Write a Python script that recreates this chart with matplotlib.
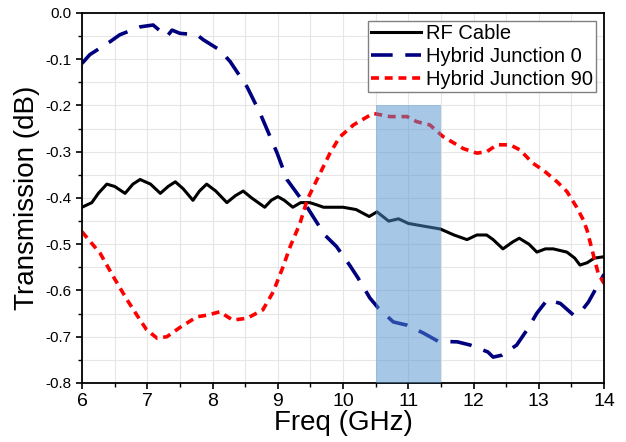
import matplotlib
matplotlib.use('Agg')
import matplotlib.pyplot as plt
from matplotlib.ticker import MultipleLocator

plt.rcParams['font.family'] = ['Liberation Sans', 'DejaVu Sans']

# RF cable
f_cable = [6.0, 6.15, 6.25, 6.38, 6.5, 6.66, 6.78, 6.89, 7.05, 7.2, 7.32, 7.43, 7.55, 7.7,
           7.8, 7.91, 8.05, 8.22, 8.35, 8.47, 8.6, 8.8, 8.9, 9.0, 9.1, 9.23, 9.35, 9.49,
           9.6, 9.7, 9.85, 10.0, 10.2, 10.4, 10.52, 10.7, 10.85, 11.0, 11.2, 11.49, 11.7,
           11.9, 12.05, 12.2, 12.3, 12.45, 12.6, 12.7, 12.85, 12.97, 13.1, 13.22, 13.43,
           13.55, 13.63, 13.74, 13.85, 14.0]
t_cable = [-0.42, -0.41, -0.39, -0.37, -0.375, -0.39, -0.37, -0.36, -0.37, -0.39, -0.375,
           -0.365, -0.38, -0.405, -0.385, -0.37, -0.385, -0.41, -0.395, -0.385, -0.40,
           -0.42, -0.405, -0.397, -0.405, -0.42, -0.41, -0.41, -0.415, -0.42, -0.42,
           -0.42, -0.425, -0.44, -0.43, -0.45, -0.445, -0.455, -0.46, -0.467, -0.48,
           -0.49, -0.48, -0.48, -0.49, -0.51, -0.495, -0.487, -0.5, -0.517, -0.51, -0.51,
           -0.517, -0.53, -0.545, -0.54, -0.53, -0.527]

# Hybrid junction 0
f_hj0 = [6.0, 6.12, 6.43, 6.58, 6.89, 7.09, 7.3, 7.38, 7.5, 7.76, 7.86, 8.11, 8.27, 8.53,
         8.73, 8.99, 9.14, 9.45, 9.72, 9.9, 10.1, 10.23, 10.41, 10.54, 10.77, 10.98,
         11.23, 11.46, 11.75, 11.95, 12.22, 12.3, 12.43, 12.66, 12.82, 12.97, 13.13,
         13.33, 13.53, 13.65, 13.76, 13.89, 14.0]
t_hj0 = [-0.109, -0.09, -0.062, -0.047, -0.03, -0.026, -0.051, -0.037, -0.044, -0.047,
         -0.058, -0.08, -0.105, -0.16, -0.217, -0.303, -0.36, -0.42, -0.48, -0.505,
         -0.545, -0.573, -0.616, -0.638, -0.668, -0.675, -0.692, -0.71, -0.711, -0.718,
         -0.733, -0.744, -0.74, -0.718, -0.685, -0.649, -0.62, -0.628, -0.653, -0.645,
         -0.625, -0.592, -0.565]

# Hybrid junction 90
f_hj90 = [6.0, 6.28, 6.48, 6.69, 6.84, 6.99, 7.15, 7.3, 7.5, 7.76, 7.93, 8.11, 8.31, 8.53,
          8.77, 8.93, 9.08, 9.19, 9.34, 9.45, 9.65, 9.8, 9.95, 10.16, 10.46, 10.72, 10.98,
          11.13, 11.33, 11.53, 11.84, 12.05, 12.2, 12.36, 12.56, 12.71, 12.91, 13.07,
          13.28, 13.43, 13.58, 13.68, 13.74, 13.83, 13.91, 14.0]
t_hj90 = [-0.473, -0.52, -0.57, -0.62, -0.653, -0.685, -0.703, -0.7, -0.68, -0.657, -0.653,
          -0.646, -0.664, -0.66, -0.642, -0.603, -0.549, -0.505, -0.455, -0.404, -0.346,
          -0.303, -0.268, -0.242, -0.217, -0.224, -0.224, -0.235, -0.242, -0.267, -0.293,
          -0.303, -0.3, -0.285, -0.285, -0.296, -0.325, -0.34, -0.365, -0.386, -0.42,
          -0.447, -0.47, -0.52, -0.563, -0.585]

band = (10.5, 11.5)
band_top = -0.2

fig = plt.figure(figsize=(6.26, 4.42), dpi=100)
ax = fig.add_axes([0.131, 0.1335, 0.834, 0.8371])

ax.plot(f_cable, t_cable, color='black', lw=2.2, label='RF Cable', zorder=2)
ax.plot(f_hj0, t_hj0, color='#00007f', lw=2.6, dashes=(6, 3.5), label='Hybrid Junction 0', zorder=2)
ax.plot(f_hj90, t_hj90, color='#ff0000', lw=2.6, dashes=(2.2, 1.6), label='Hybrid Junction 90', zorder=2)

ax.fill_between(band, [band_top, band_top], -0.8, color='#5191d1', alpha=0.5, lw=0, zorder=3)

ax.set_xlim(6, 14)
ax.set_ylim(-0.8, 0.0)
ax.xaxis.set_major_locator(MultipleLocator(1))
ax.xaxis.set_minor_locator(MultipleLocator(0.5))
ax.yaxis.set_major_locator(MultipleLocator(0.1))
ax.yaxis.set_minor_locator(MultipleLocator(0.05))
ax.yaxis.set_major_formatter(plt.FuncFormatter(lambda v, p: '%.1f' % v))
ax.grid(True, which='both', color='#e6e6e6', lw=0.8, zorder=0)
ax.set_axisbelow(True)

ax.tick_params(axis='x', which='major', labelsize=14, length=4, width=1.2)
ax.tick_params(axis='y', which='major', labelsize=11, length=4, width=1.2)
ax.tick_params(which='minor', length=3, width=1.0)
for s in ax.spines.values():
    s.set_linewidth(1.3)

ax.set_xlabel('Freq (GHz)', fontsize=20, labelpad=0)
ax.set_ylabel('Transmission (dB)', fontsize=20, labelpad=4)

leg = ax.legend(loc='upper right', fontsize=14.5, handlelength=2.5, handletextpad=0.25,
                borderpad=0.15, labelspacing=0.2, fancybox=False, borderaxespad=0.38)
leg.get_frame().set_edgecolor('#808080')
leg.get_frame().set_linewidth(1.0)
leg.get_frame().set_alpha(1)

fig.savefig('out.png', dpi=100)
